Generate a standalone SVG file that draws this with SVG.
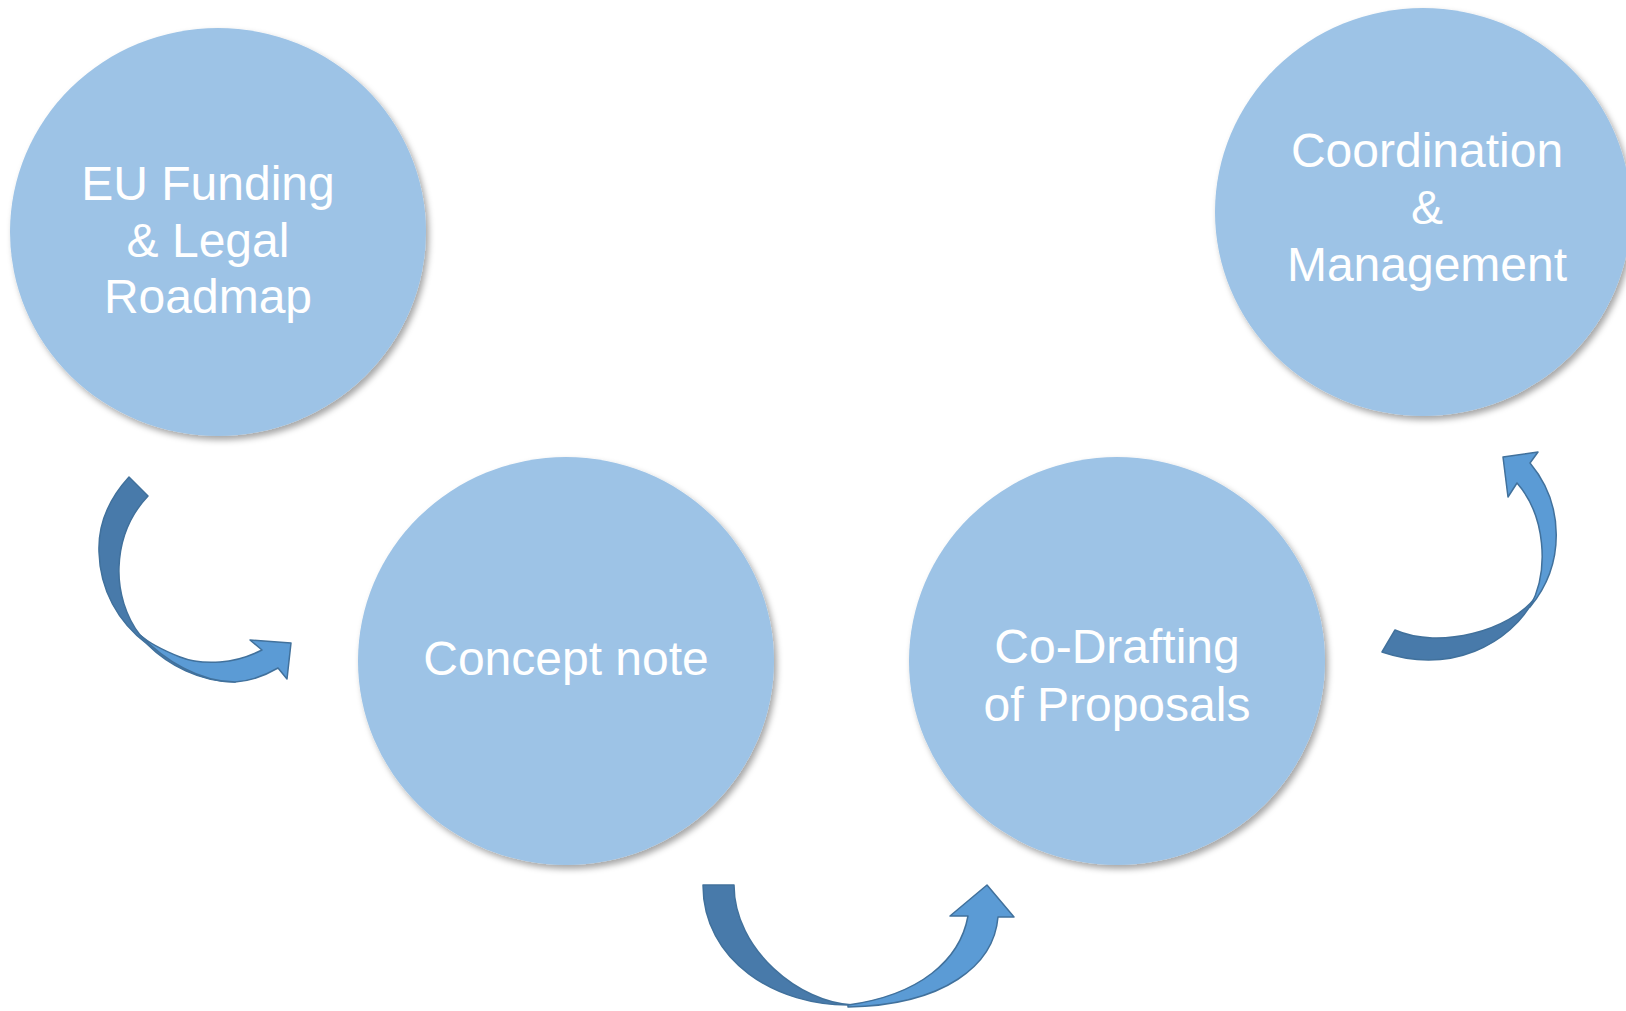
<svg xmlns="http://www.w3.org/2000/svg" width="1626" height="1011" viewBox="0 0 1626 1011">
<defs>
<filter id="sh" x="-10%" y="-10%" width="125%" height="125%">
<feDropShadow dx="3" dy="4" stdDeviation="3" flood-color="#000" flood-opacity="0.35"/>
</filter>
<style>
.node{fill:#9DC3E6;filter:url(#sh)}
.lbl{font-family:"Liberation Sans",Arial,sans-serif;font-size:48px;fill:#fff;text-anchor:middle}
.dark{fill:#487AAA;stroke:#41719C;stroke-width:1.5;stroke-linejoin:round}
.light{fill:#5B9BD5;stroke:#41719C;stroke-width:1.5;stroke-linejoin:round}
</style>
</defs>
<rect width="1626" height="1011" fill="#fff"/>
<g id="node-eu-funding">
<ellipse class="node" cx="218" cy="232" rx="208" ry="204"/>
<text class="lbl" x="208" y="200">EU Funding</text>
<text class="lbl" x="208" y="257">&amp; Legal</text>
<text class="lbl" x="208" y="313">Roadmap</text>
</g>
<g id="node-concept-note">
<ellipse class="node" cx="566" cy="661" rx="208" ry="204"/>
<text class="lbl" x="566" y="675">Concept note</text>
</g>
<g id="node-co-drafting">
<ellipse class="node" cx="1117" cy="661" rx="208" ry="204"/>
<text class="lbl" x="1117" y="663">Co-Drafting</text>
<text class="lbl" x="1117" y="721">of Proposals</text>
</g>
<g id="node-coordination">
<ellipse class="node" cx="1423" cy="212" rx="208" ry="204"/>
<text class="lbl" x="1427" y="167">Coordination</text>
<text class="lbl" x="1427" y="224">&amp;</text>
<text class="lbl" x="1427" y="281">Management</text>
</g>
<g id="connectors">
<g id="arrow-1">
<path class="dark" d="M129,477 L148,496 C130,515 120,540 119,567 C118,592 126,617 140,635 C165,658 200,676 235,682 C200,682 168,665 147,644 C118,622 100,590 99,552 C98,525 108,500 129,477 Z"/>
<path class="light" d="M140,635 C165,661 200,682 235,682 C252,681 266,675 278,668 L287,679 L291,643 L250,640 L262,650 C248,657 235,661 220,662 C205,663 190,661 180,657 C165,651 150,644 140,635 Z"/>
</g>
<g id="arrow-2">
<path class="dark" d="M703,885 L734,885 C734,950 800,1003 853,1005 C775,1007 703,960 703,885 Z"/>
<path class="light" d="M848,1007 C945,1005 994,965 998,917 L1014,917 L987,885 L950,916 L968,916 C960,960 920,995 848,1005 Z"/>
</g>
<g id="arrow-3">
<path class="dark" d="M1382,652 L1395,630 C1440,650 1510,630 1535,598 C1510,645 1450,675 1382,652 Z"/>
<path class="light" d="M1530,607 C1565,565 1565,505 1530,463 L1538,452 L1503,457 L1508,497 L1517,483 C1545,515 1550,570 1530,607 Z"/>
</g>
</g>
</svg>
